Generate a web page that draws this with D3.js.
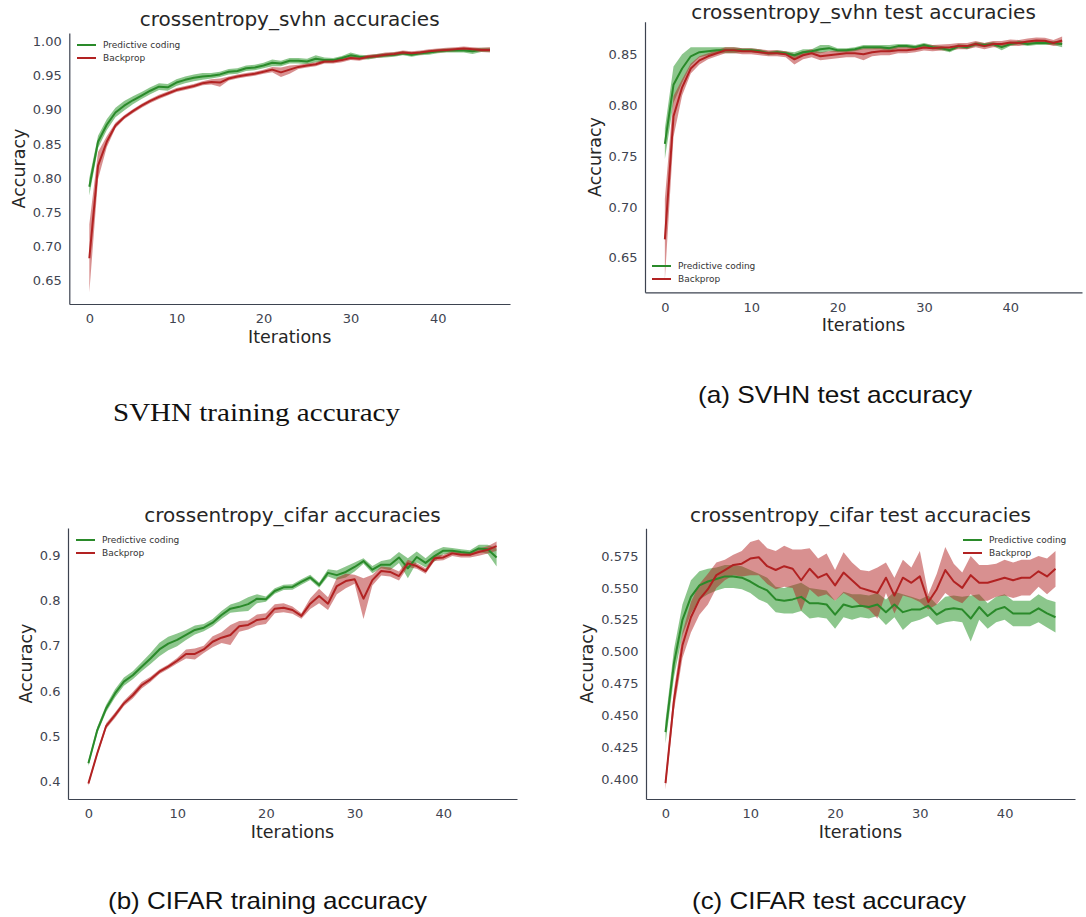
<!DOCTYPE html>
<html>
<head>
<meta charset="utf-8">
<script src="https://cdn.jsdelivr.net/npm/d3@7"></script>
<style>
  html, body { margin: 0; padding: 0; background: #ffffff; }
  svg { display: block; }
</style>
</head>
<body>
<svg id="chart" width="1086" height="917"></svg>
<script>
// ---------------- DATA ----------------
const iterations = d3.range(0, 47);
const seriesNames = ["Predictive coding", "Backprop"];

const xTicks = [0, 10, 20, 30, 40];
const svhnTrainTicks = [0.65, 0.70, 0.75, 0.80, 0.85, 0.90, 0.95, 1.00];
const svhnTestTicks = [0.65, 0.70, 0.75, 0.80, 0.85];
const cifarTrainTicks = [0.4, 0.5, 0.6, 0.7, 0.8, 0.9];
const cifarTestTicks = [0.400, 0.425, 0.450, 0.475, 0.500, 0.525, 0.550, 0.575];

const titles = ["crossentropy_svhn accuracies", "crossentropy_svhn test accuracies",
                "crossentropy_cifar accuracies", "crossentropy_cifar test accuracies"];
const captions = ["SVHN training accuracy", "(a) SVHN test accuracy",
                  "(b) CIFAR training accuracy", "(c) CIFAR test accuracy"];

// SVHN training
const svhnTrainPC = [.787,.853,.878,.896,.906,.914,.921,.928,.934,.933,.940,.944,.947,.949,.950,.952,.956,.957,.961,.962,.965,.969,.968,.972,.972,.971,.975,.973,.973,.976,.980,.978,.977,.979,.980,.981,.983,.981,.983,.984,.986,.987,.987,.987,.986,.988,.988];
const svhnTrainPCErr = [.013,.009,.008,.007,.007,.006,.005,.005,.005,.005,.005,.005,.005,.005,.004,.004,.004,.004,.004,.004,.004,.005,.004,.004,.004,.004,.005,.004,.003,.003,.004,.003,.003,.003,.003,.003,.003,.003,.003,.003,.003,.003,.003,.003,.004,.003,.003];
const svhnTrainBP = [.682,.818,.853,.877,.889,.898,.906,.913,.919,.924,.929,.932,.935,.939,.941,.940,.946,.949,.951,.953,.956,.959,.955,.959,.963,.965,.967,.971,.971,.973,.976,.975,.978,.979,.981,.982,.984,.983,.984,.986,.987,.988,.989,.990,.989,.988,.988];
const svhnTrainBPErr = [.050,.020,.008,.004,.003,.003,.003,.003,.003,.003,.003,.003,.003,.003,.004,.006,.003,.003,.003,.003,.003,.004,.007,.006,.003,.003,.003,.003,.003,.003,.003,.003,.003,.003,.003,.003,.003,.003,.003,.003,.003,.003,.003,.003,.003,.003,.004];

// SVHN test
const svhnTestPC = [.762,.820,.836,.848,.852,.853,.854,.854,.854,.854,.854,.853,.851,.852,.851,.849,.852,.853,.855,.856,.854,.854,.855,.857,.857,.857,.856,.858,.858,.857,.859,.857,.856,.854,.858,.857,.860,.859,.860,.857,.860,.8615,.860,.861,.861,.861,.860];
const svhnTestPCErr = [.015,.018,.014,.009,.005,.004,.003,.003,.003,.002,.002,.002,.002,.002,.002,.003,.003,.002,.004,.003,.002,.002,.002,.002,.002,.002,.003,.002,.002,.002,.002,.002,.002,.002,.002,.002,.002,.002,.002,.003,.002,.002,.002,.002,.002,.002,.003];
const svhnTestBP = [.668,.789,.8175,.836,.844,.848,.851,.854,.854,.853,.853,.852,.851,.851,.850,.845,.849,.851,.848,.849,.850,.851,.851,.850,.852,.853,.853,.854,.854,.855,.8566,.856,.8566,.857,.858,.858,.860,.858,.860,.860,.8615,.861,.8625,.8635,.8633,.861,.8635];
const svhnTestBPErr = [.040,.020,.008,.005,.004,.003,.003,.003,.003,.003,.003,.003,.003,.003,.003,.005,.004,.004,.004,.004,.004,.004,.004,.006,.004,.004,.004,.003,.003,.003,.003,.003,.003,.003,.003,.003,.003,.003,.003,.003,.003,.003,.003,.003,.003,.003,.004];

// CIFAR training
const cifarTrainPC = [.441,.514,.562,.595,.621,.635,.654,.672,.692,.705,.713,.724,.735,.740,.751,.768,.782,.786,.792,.804,.803,.821,.829,.830,.841,.851,.834,.861,.856,.863,.874,.887,.868,.879,.879,.895,.871,.896,.883,.898,.910,.910,.907,.905,.915,.913,.895];
const cifarTrainPCErr = [.006,.007,.008,.009,.009,.009,.010,.012,.015,.015,.014,.011,.010,.008,.008,.009,.009,.011,.015,.010,.006,.006,.006,.006,.006,.006,.006,.008,.010,.012,.010,.006,.008,.008,.012,.012,.022,.012,.010,.012,.008,.006,.006,.006,.008,.010,.020];
const cifarTrainBP = [.396,.463,.523,.547,.573,.591,.613,.626,.643,.654,.667,.682,.682,.692,.709,.718,.724,.743,.746,.757,.760,.782,.784,.779,.766,.793,.810,.793,.832,.843,.847,.804,.845,.865,.863,.854,.882,.876,.865,.893,.895,.904,.901,.901,.907,.912,.920];
const cifarTrainBPErr = [.005,.005,.006,.006,.006,.007,.007,.006,.005,.005,.006,.010,.012,.008,.012,.012,.022,.012,.010,.012,.012,.010,.010,.008,.006,.012,.016,.014,.018,.016,.010,.045,.012,.010,.010,.010,.008,.006,.006,.006,.006,.006,.006,.006,.008,.008,.010];

// CIFAR test
const cifarTestPC = [.437,.491,.525,.543,.552,.555,.557,.559,.559,.558,.555,.551,.548,.541,.540,.541,.543,.538,.538,.537,.529,.537,.535,.536,.535,.537,.531,.537,.531,.533,.533,.536,.529,.533,.534,.533,.526,.535,.528,.533,.535,.530,.530,.530,.534,.530,.527];
const cifarTestPCErr = [.009,.011,.012,.013,.011,.010,.009,.009,.009,.009,.009,.010,.010,.010,.010,.011,.011,.012,.011,.011,.011,.010,.010,.009,.009,.009,.010,.010,.014,.010,.008,.008,.008,.010,.010,.010,.018,.010,.010,.010,.010,.010,.010,.010,.011,.011,.012];
const cifarTestBP = [.397,.462,.505,.527,.541,.549,.560,.564,.568,.569,.573,.574,.567,.564,.567,.565,.556,.565,.558,.561,.552,.562,.556,.550,.548,.546,.558,.544,.558,.554,.559,.539,.549,.564,.555,.550,.560,.554,.554,.556,.558,.556,.558,.558,.563,.559,.565];
const cifarTestBPErr = [.005,.008,.010,.012,.012,.012,.010,.008,.008,.010,.013,.014,.014,.015,.016,.015,.024,.016,.015,.016,.012,.016,.014,.014,.015,.020,.012,.014,.014,.012,.020,.006,.012,.018,.014,.012,.015,.014,.014,.013,.014,.014,.014,.014,.012,.014,.014];

// ---------------- DRAW ----------------
const svg = d3.select("#chart");
const lineColors = ["#2a8a2a", "#b22222"];
const bandColors = ["rgba(0,128,0,0.45)", "rgba(178,34,34,0.5)"];
const textColor = "#262626";
const tickColor = "#3f4450";
const spineColor = "#3d4350";
const FONT = "'DejaVu Sans', sans-serif";

function drawPanel(cfg) {
  const x = d3.scaleLinear().domain([-2.3, 48.3]).range([cfg.left, cfg.right]);
  const y = d3.scaleLinear().domain(cfg.yDomain).range([cfg.bottom, cfg.top]);
  const g = svg.append("g");

  cfg.series.forEach((s, i) => {
    const pts = iterations.map((it, k) => ({ it, m: s.mean[k], e: s.err[k] }));
    const area = d3.area().x(d => x(d.it)).y0(d => y(d.m - d.e)).y1(d => y(d.m + d.e));
    g.append("path").datum(pts).attr("d", area).attr("fill", bandColors[i]).attr("stroke", "none");
  });
  cfg.series.forEach((s, i) => {
    const pts = iterations.map((it, k) => ({ it, m: s.mean[k] }));
    const line = d3.line().x(d => x(d.it)).y(d => y(d.m));
    g.append("path").datum(pts).attr("d", line).attr("fill", "none")
      .attr("stroke", lineColors[i]).attr("stroke-width", 2).attr("stroke-linejoin", "round");
  });

  // axes (spines left and bottom only, no tick marks)
  const xAxis = d3.axisBottom(x).tickValues(xTicks).tickSize(0).tickPadding(10).tickFormat(d3.format("d"));
  const yAxis = d3.axisLeft(y).tickValues(cfg.yTicks).tickSize(0).tickPadding(7.5).tickFormat(d3.format(cfg.fmt));
  const gx = g.append("g").attr("transform", `translate(0,${cfg.bottom})`).call(xAxis);
  const gy = g.append("g").attr("transform", `translate(${cfg.left},0)`).call(yAxis);
  [gx, gy].forEach(a => {
    a.select(".domain").attr("stroke", spineColor).attr("stroke-width", 1.2);
    a.selectAll("text").attr("fill", tickColor).style("font-family", FONT).style("font-size", "13px");
  });
  gx.selectAll("text").attr("dy", "0.71em");

  // title
  g.append("text").attr("x", (cfg.left + cfg.right) / 2).attr("y", cfg.titleY)
    .attr("text-anchor", "middle").attr("fill", textColor)
    .style("font-family", FONT).style("font-size", "20px").text(cfg.title);
  // axis labels
  g.append("text").attr("x", (cfg.left + cfg.right) / 2).attr("y", cfg.bottom + 39)
    .attr("text-anchor", "middle").attr("fill", textColor)
    .style("font-family", FONT).style("font-size", "17.5px").text("Iterations");
  g.append("text")
    .attr("transform", `translate(${cfg.ylabX},${(cfg.top + cfg.bottom) / 2}) rotate(-90)`)
    .attr("text-anchor", "middle").attr("fill", textColor)
    .style("font-family", FONT).style("font-size", "17.5px").text("Accuracy");

  // legend
  seriesNames.forEach((name, i) => {
    const ly = cfg.legY + i * 13;
    g.append("line").attr("x1", cfg.legX).attr("x2", cfg.legX + 19).attr("y1", ly).attr("y2", ly)
      .attr("stroke", lineColors[i]).attr("stroke-width", 2);
    g.append("text").attr("x", cfg.legX + 26).attr("y", ly).attr("dy", "0.35em")
      .attr("fill", "#333").style("font-family", FONT).style("font-size", "9px").text(name);
  });
}

drawPanel({
  left: 69.3, right: 510, top: 33, bottom: 304, yDomain: [0.6148, 1.0128],
  yTicks: svhnTrainTicks, fmt: ".2f", title: titles[0], titleY: 26, ylabX: 25,
  legX: 77, legY: 45,
  series: [{ mean: svhnTrainPC, err: svhnTrainPCErr }, { mean: svhnTrainBP, err: svhnTrainBPErr }]
});
drawPanel({
  left: 645, right: 1082, top: 21.7, bottom: 292.3, yDomain: [0.616, 0.882],
  yTicks: svhnTestTicks, fmt: ".2f", title: titles[1], titleY: 19, ylabX: 600.5,
  legX: 652, legY: 266,
  series: [{ mean: svhnTestPC, err: svhnTestPCErr }, { mean: svhnTestBP, err: svhnTestBPErr }]
});
drawPanel({
  left: 68, right: 517, top: 528, bottom: 799, yDomain: [0.362, 0.96],
  yTicks: cifarTrainTicks, fmt: ".1f", title: titles[2], titleY: 522, ylabX: 32,
  legX: 76, legY: 540,
  series: [{ mean: cifarTrainPC, err: cifarTrainPCErr }, { mean: cifarTrainBP, err: cifarTrainBPErr }]
});
drawPanel({
  left: 646, right: 1075, top: 528.3, bottom: 799, yDomain: [0.3846, 0.5967],
  yTicks: cifarTestTicks, fmt: ".3f", title: titles[3], titleY: 522, ylabX: 593,
  legX: 963, legY: 540,
  series: [{ mean: cifarTestPC, err: cifarTestPCErr }, { mean: cifarTestBP, err: cifarTestBPErr }]
});

// captions
const capCfg = [
  { x: 113, y: 421, w: 287, font: "'Liberation Serif', 'Times New Roman', serif", size: 26 },
  { x: 698, y: 403, w: 274, font: "'Liberation Sans', Arial, sans-serif", size: 24 },
  { x: 108, y: 909, w: 319, font: "'Liberation Sans', Arial, sans-serif", size: 24 },
  { x: 692, y: 909, w: 274, font: "'Liberation Sans', Arial, sans-serif", size: 24 }
];
captions.forEach((c, i) => {
  svg.append("text").attr("x", capCfg[i].x).attr("y", capCfg[i].y)
    .attr("textLength", capCfg[i].w).attr("lengthAdjust", "spacingAndGlyphs")
    .attr("fill", "#111").style("font-family", capCfg[i].font)
    .style("font-size", capCfg[i].size + "px").text(c);
});
</script>
</body>
</html>
